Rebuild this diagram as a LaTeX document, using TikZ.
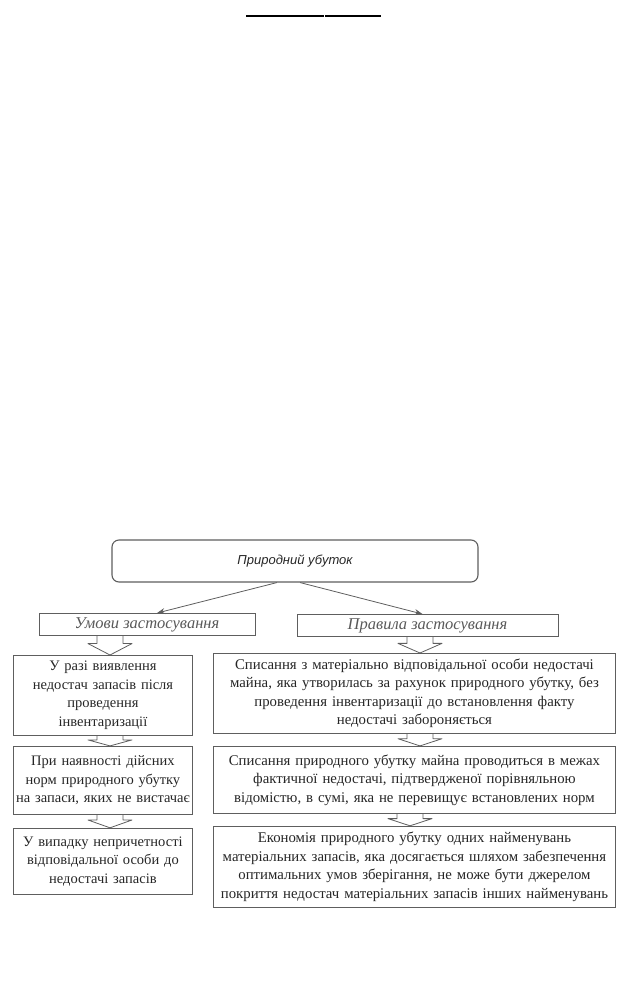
\documentclass[tikz,border=0pt]{standalone}
\usepackage{fontspec}
\setmainfont{Liberation Serif}
\setsansfont{Liberation Sans}
\usepackage{xcolor}
\usepackage{tikz}
\usetikzlibrary{arrows.meta,positioning,calc}
\definecolor{ink}{HTML}{262626}
\definecolor{line}{HTML}{5E5E5E}
\tikzset{
  root/.style={
    draw=line, rounded corners=7pt, line width=1.1pt,
    minimum width=366pt, minimum height=42pt,
    font=\sffamily\itshape\fontsize{13}{15}\selectfont\color{ink}},
  branch/.style={draw=line, line width=0.9pt, minimum height=22pt, inner sep=0pt,
    font=\itshape\fontsize{16.5}{18}\selectfont\color{black!65}},
  cell/.style={draw=line, line width=0.9pt, align=center, inner xsep=2pt, inner ysep=0pt,
    font=\fontsize{14.8}{18.5}\selectfont\color{ink}},
  cond/.style={cell, text width=175pt, font=\fontsize{14.5}{18.5}\selectfont\color{ink}},
  rule/.style={cell, text width=398pt},
  flow/.style={-{Stealth[length=8pt,width=6pt]}, line width=0.8pt, color=line},
  hollow/.style={line width=0.8pt, color=line, line join=round},
}
% hollow block arrow: x-coordinate, upper node, lower node
\newcommand\hollowdown[3]{%
  \draw[hollow] let \p1=(#2.south -| #1), \p2=(#3.north -| #1) in
    (\x1-13pt,\y1) -- (\x1-13pt,0.6*\y1+0.4*\y2) -- (\x1-22pt,0.6*\y1+0.4*\y2)
    -- (\p2) -- (\x1+22pt,0.6*\y1+0.4*\y2) -- (\x1+13pt,0.6*\y1+0.4*\y2)
    -- (\x1+13pt,\y1);}

\begin{document}
\begin{tikzpicture}[x=1pt, y=-1pt]
  \useasboundingbox (0,0) rectangle (627,985);
  \draw[line width=1.3pt] (246,16) -- (324,16) (325,16) -- (381,16);

  \node[root] (loss) at (295,561) {Природний убуток};
  \node[branch, minimum width=216pt] (umovy) at (147,624.5) {Умови застосування};
  \node[branch, minimum width=261pt] (pravyla) at (427.5,625.5) {Правила застосування};

  % conditions
  \node[cond, minimum height=80pt, anchor=north west] (c1) at (13,655)
    {У разі виявлення\\ недостач запасів після\\ проведення\\ інвентаризації};
  \node[cond, minimum height=68pt, below=10pt of c1] (c2)
    {При наявності дійсних\\ норм природного убутку\\ на запаси, яких не вистачає};
  \node[cond, minimum height=66pt, below=13pt of c2] (c3)
    {У випадку непричетності\\ відповідальної особи до\\ недостачі запасів};

  % rules
  \node[rule, minimum height=80pt, anchor=north west] (r1) at (213,653)
    {Списання з матеріально відповідальної особи недостачі\\
     майна, яка утворилась за рахунок природного убутку, без\\
     проведення інвентаризації до встановлення факту\\
     недостачі забороняється};
  \node[rule, minimum height=67pt, below=12pt of r1] (r2)
    {Списання природного убутку майна проводиться в межах\\
     фактичної недостачі, підтвердженої порівняльною\\
     відомістю, в сумі, яка не перевищує встановлених норм};
  \node[rule, minimum height=81pt, below=12pt of r2] (r3)
    {Економія природного убутку одних найменувань\\
     матеріальних запасів, яка досягається шляхом забезпечення\\
     оптимальних умов зберігання, не може бути джерелом\\
     покриття недостач матеріальних запасів інших найменувань};

  \draw[flow] ([xshift=-18pt]loss.south) -- ([xshift=10pt]umovy.north);
  \draw[flow] ([xshift=5pt]loss.south) -- ([xshift=-5pt]pravyla.north);

  \coordinate (lx) at (110,0);
  \coordinate (rx) at (420,0);
  \coordinate (ry) at (410,0);
  \hollowdown{lx}{umovy}{c1}
  \hollowdown{lx}{c1}{c2}
  \hollowdown{lx}{c2}{c3}
  \hollowdown{rx}{pravyla}{r1}
  \hollowdown{rx}{r1}{r2}
  \hollowdown{ry}{r2}{r3}
\end{tikzpicture}
\end{document}
